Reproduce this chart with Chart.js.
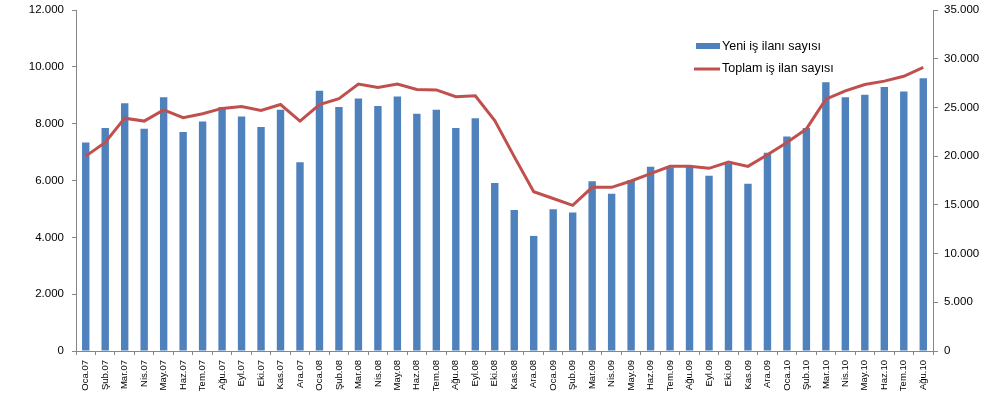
<!DOCTYPE html>
<html>
<head>
<meta charset="utf-8">
<script src="https://cdn.jsdelivr.net/npm/chart.js@4.4.1/dist/chart.umd.min.js"></script>
<style>
  html, body { margin: 0; padding: 0; background: #fff; }
  #wrap { width: 1006px; height: 399px; }
</style>
</head>
<body>
<div id="wrap"><canvas id="ilanChart" width="1006" height="399"></canvas></div>
<script>
// aylar
var months = ['Oca.07', 'Şub.07', 'Mar.07', 'Nis.07', 'May.07', 'Haz.07', 'Tem.07', 'Ağu.07', 'Eyl.07', 'Eki.07', 'Kas.07', 'Ara.07',
  'Oca.08', 'Şub.08', 'Mar.08', 'Nis.08', 'May.08', 'Haz.08', 'Tem.08', 'Ağu.08', 'Eyl.08', 'Eki.08', 'Kas.08', 'Ara.08',
  'Oca.09', 'Şub.09', 'Mar.09', 'Nis.09', 'May.09', 'Haz.09', 'Tem.09', 'Ağu.09', 'Eyl.09', 'Eki.09', 'Kas.09', 'Ara.09',
  'Oca.10', 'Şub.10', 'Mar.10', 'Nis.10', 'May.10', 'Haz.10', 'Tem.10', 'Ağu.10'];

// yeni iş ilanı sayısı (sol eksen)
var yeniIlan = [7340, 7850, 8720, 7820, 8930, 7710, 8080, 8590, 8250, 7880, 8490, 6640,
  9160, 8590, 8890, 8620, 8960, 8350, 8490, 7850, 8190, 5910, 4960, 4050,
  4990, 4870, 5970, 5530, 6020, 6480, 6470, 6480, 6170, 6590, 5890, 6980,
  7550, 7850, 9460, 8930, 9020, 9290, 9130, 9600];

// toplam iş ilan sayısı (sağ eksen)
var toplamIlan = [20000, 21400, 23900, 23600, 24750, 23950, 24350, 24900, 25100, 24700, 25300, 23600,
  25300, 25900, 27400, 27050, 27400, 26850, 26800, 26100, 26200, 23650, 19950, 16350,
  15650, 14950, 16800, 16800, 17450, 18200, 18950, 18950, 18750, 19400, 18950, 20150,
  21400, 22800, 25850, 26700, 27350, 27700, 28200, 29100];

var leftTicks = [0, 2000, 4000, 6000, 8000, 10000, 12000];
var rightTicks = [0, 5000, 10000, 15000, 20000, 25000, 30000, 35000];

var BLUE = '#4F81BD';
var RED = '#C0504D';
var AXIS = '#868686';
var FONT = "'Liberation Sans', Arial, sans-serif";

function noktali(v) {
  return String(v).replace(/\B(?=(\d{3})+(?!\d))/g, '.');
}

// lejant grafiğin içinde, sağ üstte
var icLejant = {
  id: 'icLejant',
  afterDraw: function (chart) {
    var ctx = chart.ctx;
    var a = chart.chartArea;
    var x = a.left + 620;
    var ds = chart.data.datasets;
    ctx.save();
    ctx.font = '12.5px ' + FONT;
    ctx.textBaseline = 'middle';
    ctx.fillStyle = BLUE;
    ctx.fillRect(x, a.top + 33, 24, 6);
    ctx.fillStyle = '#000';
    ctx.fillText(ds[0].label, x + 26, a.top + 37);
    ctx.strokeStyle = RED;
    ctx.lineWidth = 3;
    ctx.beginPath();
    ctx.moveTo(x - 2, a.top + 59);
    ctx.lineTo(x + 24, a.top + 59);
    ctx.stroke();
    ctx.fillText(ds[1].label, x + 26, a.top + 59);
    ctx.restore();
  }
};

var ctx = document.getElementById('ilanChart').getContext('2d');
var ilanChart = new Chart(ctx, {
  type: 'bar',
  data: {
    labels: months,
    datasets: [
      {
        type: 'bar',
        label: 'Yeni iş ilanı sayısı',
        data: yeniIlan,
        backgroundColor: BLUE,
        yAxisID: 'y',
        barPercentage: 0.38,
        categoryPercentage: 1,
        order: 2
      },
      {
        type: 'line',
        label: 'Toplam iş ilan sayısı',
        data: toplamIlan,
        borderColor: RED,
        borderWidth: 3,
        pointRadius: 0,
        tension: 0,
        fill: false,
        yAxisID: 'y1',
        order: 1
      }
    ]
  },
  options: {
    responsive: false,
    animation: false,
    layout: { padding: { top: 10, left: 0, right: 0, bottom: 0 } },
    plugins: {
      legend: { display: false },
      tooltip: { enabled: false }
    },
    scales: {
      x: {
        grid: { display: true, drawOnChartArea: false, drawTicks: true, tickLength: 4, color: AXIS, offset: true },
        border: { display: true, color: AXIS },
        ticks: {
          autoSkip: false, minRotation: 90, maxRotation: 90, padding: 5,
          color: '#000', font: { family: FONT, size: 9.5 }
        },
        afterFit: function (s) { s.height = 48; s.paddingLeft = 0; s.paddingRight = 0; }
      },
      y: {
        position: 'left',
        min: 0, max: 12000,
        afterBuildTicks: function (s) { s.ticks = leftTicks.map(function (v) { return { value: v }; }); },
        grid: { display: true, drawOnChartArea: false, drawTicks: true, tickLength: 4, color: AXIS },
        border: { display: true, color: AXIS },
        ticks: {
          padding: 8, color: '#000', font: { family: FONT, size: 11.5 },
          callback: function (v) { return noktali(v); }
        },
        afterFit: function (s) { s.width = 76; s.paddingTop = 0; s.paddingBottom = 0; }
      },
      y1: {
        position: 'right',
        min: 0, max: 35000,
        afterBuildTicks: function (s) { s.ticks = rightTicks.map(function (v) { return { value: v }; }); },
        grid: { display: true, drawOnChartArea: false, drawTicks: true, tickLength: 5, color: AXIS },
        border: { display: true, color: AXIS },
        ticks: {
          padding: 6, color: '#000', font: { family: FONT, size: 11.5 },
          callback: function (v) { return noktali(v); }
        },
        afterFit: function (s) { s.width = 73; s.paddingTop = 0; s.paddingBottom = 0; }
      }
    }
  },
  plugins: [icLejant]
});
</script>
</body>
</html>
